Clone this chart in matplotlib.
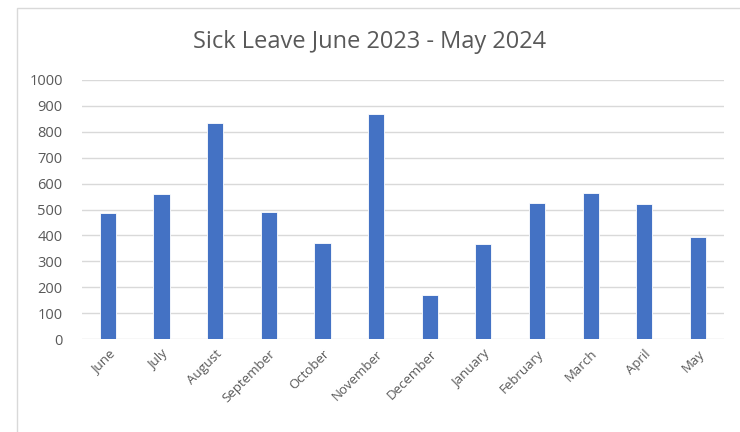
import matplotlib.pyplot as plt
from matplotlib.patches import Rectangle

months = ["June", "July", "August", "September", "October", "November",
          "December", "January", "February", "March", "April", "May"]
sick_days = [487, 560, 833, 490, 370, 868, 172, 367, 526, 565, 522, 394]
y_ticks = [0, 100, 200, 300, 400, 500, 600, 700, 800, 900, 1000]

plt.rcParams['font.family'] = ['Open Sans', 'DejaVu Sans']

fig = plt.figure(figsize=(7.4, 4.32), dpi=100)
ax = fig.add_axes([0.111, 0.215, 0.867, 0.6])

# chart frame like the spreadsheet border
fig.patches.append(Rectangle((17 / 740, -0.1), 1.0, 1 - 8 / 432 + 0.1,
                             transform=fig.transFigure, fill=False,
                             edgecolor="#d9d9d9", linewidth=1.0))

x = range(len(months))
ax.bar(x, sick_days, width=0.3, color="#4472C4", edgecolor="white",
       linewidth=0.6, zorder=3)

ax.set_ylim(0, 1000)
ax.set_xlim(-0.48, len(months) - 0.52)
ax.set_yticks(y_ticks)
ax.set_xticks(list(x))
ax.set_xticklabels(months, rotation=45, ha="right", rotation_mode="anchor")
ax.tick_params(axis="both", length=0, colors="#595959")
ax.tick_params(axis="y", labelsize=10.5, pad=14)
ax.tick_params(axis="x", labelsize=9.5, pad=6)
ax.grid(axis="y", color="#d9d9d9", linewidth=1.0, zorder=0)
for s in ax.spines.values():
    s.set_visible(False)

fig.text(0.5, 0.903, "Sick Leave June 2023 - May 2024", ha="center",
         va="center", fontsize=17, color="#595959")

fig.savefig("out.png", dpi=100)
